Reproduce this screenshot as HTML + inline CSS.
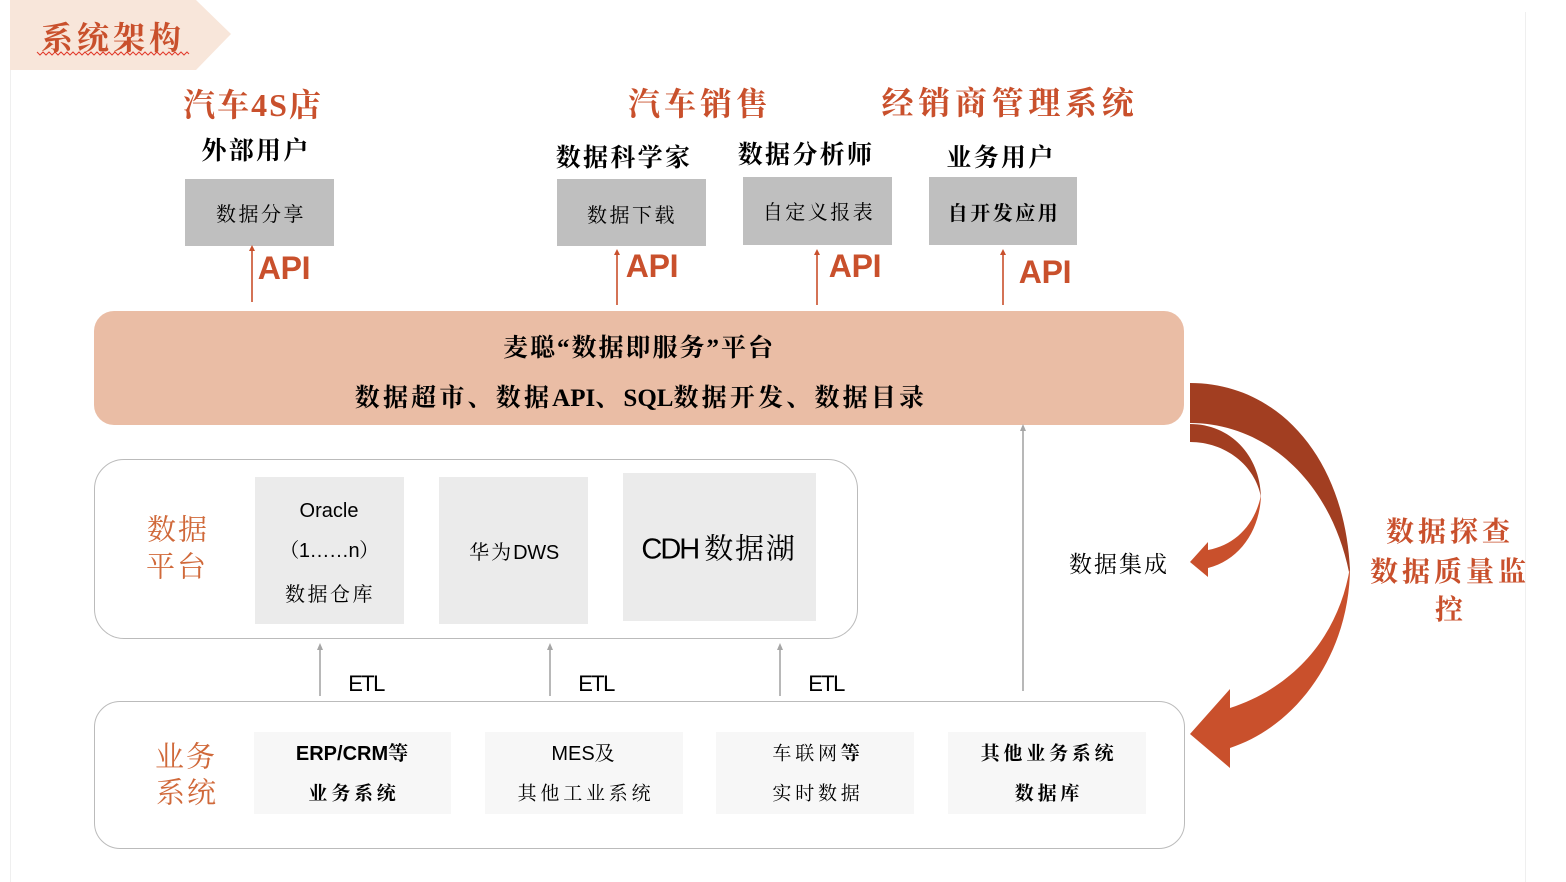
<!DOCTYPE html>
<html lang="zh"><head><meta charset="utf-8"><style>
html,body{margin:0;padding:0;background:#fff}
#p{position:relative;width:1566px;height:882px;overflow:hidden;background:#fff;font-family:"Liberation Serif","Noto Serif CJK SC",serif;color:#000}
.t{position:absolute;white-space:nowrap;transform:translate(-50%,-50%);line-height:1.2}
.b{position:absolute}
.o{color:#C9502C;font-weight:700;font-size:32px;letter-spacing:4px}
.u{font-weight:700;font-size:25px;letter-spacing:2.3px}
.s{font-size:20px;letter-spacing:2.5px}
.sb{font-size:19px;letter-spacing:3.8px;font-weight:700}
.api{font-family:"Liberation Sans",sans-serif;font-weight:700;font-size:32px;color:#C9502C;letter-spacing:-.3px}
.sans{font-family:"Liberation Sans","Noto Serif CJK SC",sans-serif}
.c{color:#D0693A;font-size:29px;letter-spacing:2px}
.pl{font-weight:700;font-size:25px;letter-spacing:2px}
.x{font-size:19px;letter-spacing:3.8px}
.r{color:#C9502C;font-weight:700;font-size:28px;letter-spacing:4px}
.etl{font-family:"Liberation Sans",sans-serif;font-size:22px;letter-spacing:-1.6px}
</style></head><body><div id="p">
<div class="b" style="left:10px;top:70px;width:1px;height:812px;background:#efefef"></div>
<div class="b" style="left:1525px;top:12px;width:1px;height:870px;background:#efefef"></div>
<div class="b" style="left:94px;top:311px;width:1090px;height:114px;border-radius:20px;background:#EABDA5"></div>
<div class="b" style="left:94px;top:459px;width:762px;height:178px;border-radius:30px;border:1px solid #BBB"></div>
<div class="b" style="left:94px;top:701px;width:1089px;height:146px;border-radius:26px;border:1px solid #BBB"></div>
<div class="b" style="left:185px;top:179px;width:149px;height:67px;background:#BFBFBF"></div>
<div class="b" style="left:557px;top:179px;width:149px;height:67px;background:#BFBFBF"></div>
<div class="b" style="left:743px;top:177px;width:149px;height:68px;background:#BFBFBF"></div>
<div class="b" style="left:929px;top:177px;width:148px;height:68px;background:#BFBFBF"></div>
<div class="b" style="left:255px;top:477px;width:149px;height:147px;background:#EBEBEB"></div>
<div class="b" style="left:439px;top:477px;width:149px;height:147px;background:#EBEBEB"></div>
<div class="b" style="left:623px;top:473px;width:193px;height:148px;background:#EBEBEB"></div>
<div class="b" style="left:254px;top:732px;width:197px;height:82px;background:#F7F7F7"></div>
<div class="b" style="left:485px;top:732px;width:198px;height:82px;background:#F7F7F7"></div>
<div class="b" style="left:716px;top:732px;width:198px;height:82px;background:#F7F7F7"></div>
<div class="b" style="left:948px;top:732px;width:198px;height:82px;background:#F7F7F7"></div>
<svg class="b" style="left:0;top:0" width="1566" height="882" viewBox="0 0 1566 882">
<polygon points="10,0 196,0 231,34 196,70 10,70" fill="#F8E6DA"/>
<polyline points="37,52 40,55 43,52 46,55 49,52 52,55 55,52 58,55 61,52 64,55 67,52 70,55 73,52 76,55 79,52 82,55 85,52 88,55 91,52 94,55 97,52 100,55 103,52 106,55 109,52 112,55 115,52 118,55 121,52 124,55 127,52 130,55 133,52 136,55 139,52 142,55 145,52 148,55 151,52 154,55 157,52 160,55 163,52 166,55 169,52 172,55 175,52 178,55 181,52 184,55 187,52 189,54" fill="none" stroke="#E23A2A" stroke-width="1"/>
<g stroke="#C9502C" stroke-width="1.6"><line x1="252" y1="302" x2="252" y2="250"/><line x1="617" y1="305" x2="617" y2="254"/><line x1="817" y1="305" x2="817" y2="254"/><line x1="1003" y1="305" x2="1003" y2="254"/></g>
<g fill="#C9502C"><polygon points="252,245 249,251 255,251"/><polygon points="617,249 614,255 620,255"/><polygon points="817,249 814,255 820,255"/><polygon points="1003,249 1000,255 1006,255"/></g>
<g stroke="#A6A6A6" stroke-width="1.6"><line x1="320" y1="696" x2="320" y2="648"/><line x1="550" y1="696" x2="550" y2="648"/><line x1="780" y1="696" x2="780" y2="648"/><line x1="1023" y1="691" x2="1023" y2="429"/></g>
<g fill="#A6A6A6"><polygon points="320,643 317,650 323,650"/><polygon points="550,643 547,650 553,650"/><polygon points="780,643 777,650 783,650"/><polygon points="1023,424 1020,431 1026,431"/></g>
<path d="M1190,383 C1280,383 1345,460 1350,570 L1349,572 C1330,480 1265,423 1190,423 Z" fill="#A23E21"/>
<path d="M1350,567 C1350,650 1300,725 1230,748 L1230,768 L1190,734 L1230,689 L1230,708 C1300,685 1340,630 1350,567 Z" fill="#C9502C"/>
<path d="M1190,424 C1230,424 1260,455 1261,497 C1255,465 1225,442 1190,442 Z" fill="#A23E21"/>
<path d="M1261,495 C1260,530 1240,560 1208,568 L1208,577 L1190,562 L1208,542 L1208,550 C1235,545 1255,525 1261,495 Z" fill="#C9502C"/>
</svg>
<div class="t" style="left:113px;top:38px;color:#C9502C;font-size:32px;font-weight:700;letter-spacing:4px">系统架构</div>
<div class="t o" style="left:253px;top:105px;letter-spacing:2px">汽车4S店</div>
<div class="t o" style="left:700px;top:104px">汽车销售</div>
<div class="t o" style="left:1010px;top:103px;font-size:32px;letter-spacing:4.7px">经销商管理系统</div>
<div class="t u" style="left:256px;top:152px">外部用户</div>
<div class="t u" style="left:624px;top:159px">数据科学家</div>
<div class="t u" style="left:806px;top:156px">数据分析师</div>
<div class="t u" style="left:1001px;top:159px">业务用户</div>
<div class="t s" style="left:261px;top:215px">数据分享</div>
<div class="t s" style="left:632px;top:216px">数据下载</div>
<div class="t s" style="left:819px;top:213px">自定义报表</div>
<div class="t s" style="left:1004px;top:214px;font-weight:700">自开发应用</div>
<div class="t api" style="left:284px;top:268px">API</div>
<div class="t api" style="left:652px;top:266px">API</div>
<div class="t api" style="left:855px;top:266px">API</div>
<div class="t api" style="left:1045px;top:272px">API</div>
<div class="t pl" style="left:639px;top:349px">麦聪“数据即服务”平台</div>
<div class="t pl" style="left:641px;top:399px;letter-spacing:3.2px">数据超市、数据<span style="letter-spacing:0">API</span>、<span style="letter-spacing:0">SQL</span>数据开发、数据目录</div>
<div class="t c" style="left:178px;top:531px">数据</div>
<div class="t c" style="left:177px;top:568px">平台</div>
<div class="t sans" style="left:329px;top:511px;font-size:20px">Oracle</div>
<div class="t sans" style="left:329px;top:551px;font-size:20px;letter-spacing:-.5px">（1……n）</div>
<div class="t s" style="left:330px;top:595px">数据仓库</div>
<div class="t sans" style="left:514px;top:553px;font-size:20px"><span style="font-family:'Liberation Serif','Noto Serif CJK SC',serif;letter-spacing:2px">华为</span><span style="letter-spacing:-.3px">DWS</span></div>
<div class="t sans" style="left:719px;top:550px;font-size:29px"><span style="letter-spacing:-2px">CDH</span><span style="font-family:'Liberation Serif','Noto Serif CJK SC',serif;letter-spacing:1.8px;margin-left:6px;font-size:29px">数据湖</span></div>
<div class="t etl" style="left:366px;top:684px">ETL</div>
<div class="t etl" style="left:596px;top:684px">ETL</div>
<div class="t etl" style="left:826px;top:684px">ETL</div>
<div class="t" style="left:1119px;top:565px;font-size:23px;letter-spacing:2px">数据集成</div>
<div class="t c" style="left:186px;top:758px">业务</div>
<div class="t c" style="left:187px;top:794px">系统</div>
<div class="t sans" style="left:352px;top:754px;font-size:20px;font-weight:700">ERP/CRM等</div>
<div class="t sb" style="left:354px;top:795px">业务系统</div>
<div class="t sans" style="left:583px;top:754px;font-size:20px">MES及</div>
<div class="t x" style="left:586px;top:795px">其他工业系统</div>
<div class="t x" style="left:818px;top:755px">车联网<b>等</b></div>
<div class="t x" style="left:818px;top:795px">实时数据</div>
<div class="t sb" style="left:1049px;top:755px">其他业务系统</div>
<div class="t sb" style="left:1049px;top:795px">数据库</div>
<div class="t r" style="left:1450px;top:533px">数据探查</div>
<div class="t r" style="left:1450px;top:573px">数据质量监</div>
<div class="t r" style="left:1451px;top:611px">控</div>
</div></body></html>
